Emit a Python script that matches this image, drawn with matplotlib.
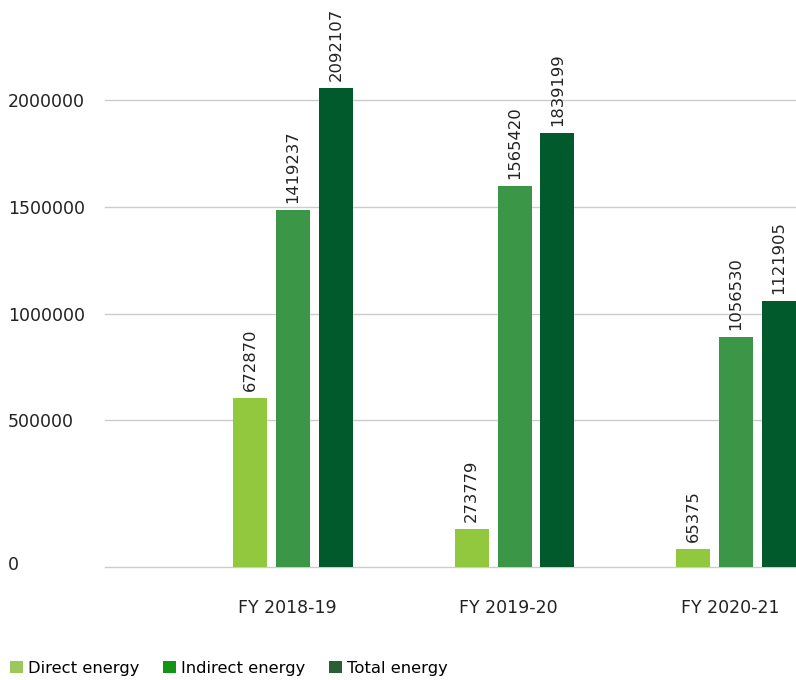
import numpy as np
import matplotlib
matplotlib.use('Agg')
import matplotlib.pyplot as plt
import matplotlib.transforms as mtrans
from matplotlib.patches import Patch

years = ['FY 2018-19', 'FY 2019-20', 'FY 2020-21']
series = ['Direct energy', 'Indirect energy', 'Total energy']

# printed value labels
direct_lbl = [672870, 273779, 65375]
indirect_lbl = [1419237, 1565420, 1056530]
total_lbl = [2092107, 1839199, 1121905]

# bar heights as drawn in the picture (they don't all agree with the labels)
direct_h = [604000, 129000, 61000]
indirect_h = [1486000, 1598000, 892000]
total_h = [2056000, 1846000, 1061000]

yticks = [0, 500000, 1000000, 1500000, 2000000]

bar_colors = ['#92c83e', '#3c9648', '#005a2c']
legend_colors = ['#9dc75a', '#149414', '#2b5e34']

# the value axis in the picture is not evenly spaced: 0 -> 500000 is taller
knots = [0, 500000, 1000000, 1500000, 2000000, 3000000]
knot_pos = [0, 147, 253, 360, 467, 681]


def fwd(v):
    return np.interp(v, knots, knot_pos)


def inv(p):
    return np.interp(p, knot_pos, knots)


plt.rcParams['font.family'] = ['DejaVu Sans']

fig = plt.figure(figsize=(7.96, 6.8), dpi=100)
ax = fig.add_axes([105 / 796, 113 / 680, 691 / 796, 567 / 680])
ax.set_yscale('function', functions=(fwd, inv))

x = np.arange(len(years))
w = 0.1535
off = 0.194
for i, (h, lbl) in enumerate(zip([direct_h, indirect_h, total_h],
                                 [direct_lbl, indirect_lbl, total_lbl])):
    xs = x + (i - 1) * off
    ax.bar(xs, h, width=w, color=bar_colors[i], zorder=3)
    for xi, hi, li in zip(xs, h, lbl):
        ax.annotate(str(li), (xi, hi), xytext=(0, 5), textcoords='offset points',
                    rotation=90, ha='center', va='bottom', fontsize=11.8,
                    color='#222222')

ax.set_xlim(-0.849, 2.271)
ax.set_ylim(0, inv(567))
ax.set_yticks(yticks)
ax.set_yticklabels([str(t) for t in yticks])
for t in ax.get_yticklabels():
    t.set_horizontalalignment('left')
ax.tick_params(axis='y', length=0, pad=70, labelsize=12.5, labelcolor='#222222')
# the "0" label sits a little above its line
zero_lbl = ax.get_yticklabels()[0]
zero_lbl.set_transform(zero_lbl.get_transform() +
                       mtrans.ScaledTranslation(0, 0.04, fig.dpi_scale_trans))
ax.set_xticks(x)
ax.set_xticklabels(years)
ax.tick_params(axis='x', length=0, pad=23, labelsize=12.5, labelcolor='#222222')
# category labels are a touch left of the group centres
for t in ax.get_xticklabels():
    t.set_transform(t.get_transform() +
                    mtrans.ScaledTranslation(-0.06, 0, fig.dpi_scale_trans))
ax.grid(axis='y', color='#cccccc', linewidth=1, zorder=0)
for gl in ax.get_ygridlines():
    gl.set_clip_on(False)
for s in ax.spines.values():
    s.set_visible(False)

handles = [Patch(facecolor=c, edgecolor='none') for c in legend_colors]
fig.legend(handles, series, loc='center left', bbox_to_anchor=(0.0, 12 / 680),
           ncol=3, frameon=False, fontsize=11.8, handlelength=0.8, handleheight=0.8,
           handletextpad=0.3, columnspacing=1.45, borderaxespad=0.2)

fig.savefig('out.png', dpi=100)
